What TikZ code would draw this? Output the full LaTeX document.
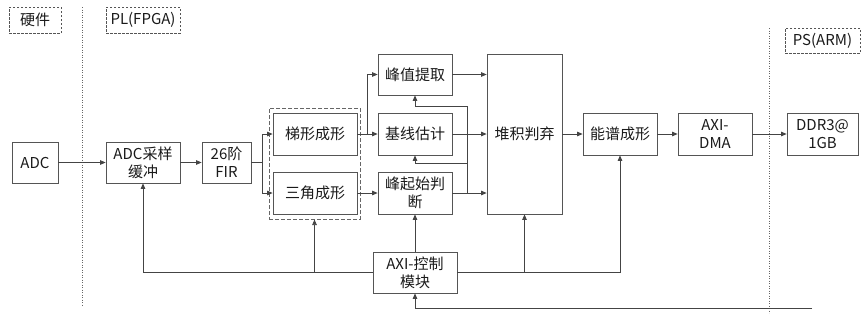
\documentclass[tikz,border=0pt]{standalone}
\usepackage{fontspec}
\setmainfont{Noto Sans CJK SC}
\usetikzlibrary{arrows.meta,positioning}
\definecolor{Ink}{HTML}{1A1A1A}
\definecolor{Edge}{HTML}{555555}
\definecolor{Wire}{HTML}{444444}
\definecolor{Sep}{HTML}{666666}
\tikzset{
  blk/.style={draw=Edge,line width=0.75pt,align=center,inner sep=0pt,
    text=Ink,font=\fontsize{15}{18}\selectfont},
  tag/.style={blk,dash pattern=on 2.5pt off 1.5pt},
  grpbox/.style={draw=Sep,line width=1pt,dash pattern=on 4pt off 2pt,inner sep=0pt},
  wire/.style={draw=Wire,line width=0.75pt,-{Triangle[length=5.5pt,width=4.5pt]}},
  bare/.style={draw=Wire,line width=0.75pt},
  sepline/.style={draw=Sep,line width=0.8pt,dash pattern=on 1.2pt off 1.3pt}
}
\begin{document}
\begin{tikzpicture}[x=1pt,y=-1pt]
  \useasboundingbox (0,0) rectangle (865,319);
  % zone labels and dividers
  \node[tag,minimum width=52,minimum height=26] (hw) at (35,20) {硬件};
  \node[tag,minimum width=74,minimum height=26] (pl) at (143,20) {PL(FPGA)};
  \node[tag,minimum width=75,minimum height=25] (ps) at (822.5,40.5) {PS(ARM)};
  \draw[sepline] (82,7) -- (82,305);
  \draw[sepline] (769,28) -- (769,313);
  % blocks
  \node[blk,minimum width=46,minimum height=41] (adc) at (35,162.5) {ADC};
  \node[blk,minimum width=74,minimum height=41] (buf) at (143,162.5) {ADC采样\\缓冲};
  \node[blk,minimum width=49,minimum height=41] (fir) at (226.5,162.5) {26阶\\FIR};
  \node[grpbox,minimum width=91,minimum height=111] (grp) at (314.5,163.5) {};
  \node[blk,minimum width=84,minimum height=42] (trap) at (315,134) {梯形成形};
  \node[blk,minimum width=84,minimum height=42] (tri) at (315,193) {三角成形};
  \node[blk,minimum width=74,minimum height=41] (peak) at (415,74.5) {峰值提取};
  \node[blk,minimum width=74,minimum height=42] (base) at (415,134) {基线估计};
  \node[blk,minimum width=74,minimum height=42] (onset) at (415,193) {峰起始判\\断};
  \node[blk,minimum width=75,minimum height=160] (pile) at (524.5,134) {堆积判弃};
  \node[blk,minimum width=74,minimum height=42] (spec) at (620,134) {能谱成形};
  \node[blk,minimum width=74,minimum height=42] (dma) at (715,134) {AXI-\\DMA};
  \node[blk,minimum width=71,minimum height=42] (ddr) at (822.5,134) {DDR3@\\1GB};
  \node[blk,minimum width=84,minimum height=41] (ctrl) at (415,272.5) {AXI-控制\\模块};
  % data path
  \draw[wire] (adc) -- (buf);
  \draw[wire] (buf) -- (fir);
  \coordinate (s1) at ([xshift=11pt]fir.east);
  \draw[bare] (fir.east) -- (s1);
  \draw[wire] (s1) |- (trap.west);
  \draw[wire] (s1) |- (tri.west);
  \coordinate (s2) at ([xshift=10pt]trap.east);
  \draw[wire] (trap) -- (base);
  \draw[wire] (s2) |- (peak.west);
  \draw[wire] (tri) -- (onset);
  \draw[wire] (peak.east) -- (peak.east -| pile.west);
  \draw[wire] (base.east) -- (base.east -| pile.west);
  \draw[wire] (onset.east) -- (onset.east -| pile.west);
  % onset feedback
  \coordinate (fb) at ([xshift=15pt]onset.east);
  \coordinate (k1) at ([yshift=-11pt]peak.south);
  \coordinate (k2) at ([yshift=-8pt]base.south);
  \draw[wire] (fb) |- (k1) -- (peak.south);
  \draw[wire] (fb) |- (k2) -- (base.south);
  \draw[wire] (pile.east |- spec.west) -- (spec.west);
  \draw[wire] (spec) -- (dma);
  \draw[wire] (dma) -- (ddr);
  % control bus
  \draw[wire] (ctrl.west) -| (buf.south);
  \draw[wire] (ctrl.west -| grp.south) -- (grp.south);
  \draw[wire] (ctrl.north) -- (onset.south);
  \draw[wire] (ctrl.east) -| (spec.south);
  \draw[wire] (ctrl.east -| pile.south) -- (pile.south);
  \coordinate (bus) at (812,308);
  \draw[wire] (bus) -| (ctrl.south);
\end{tikzpicture}
\end{document}
